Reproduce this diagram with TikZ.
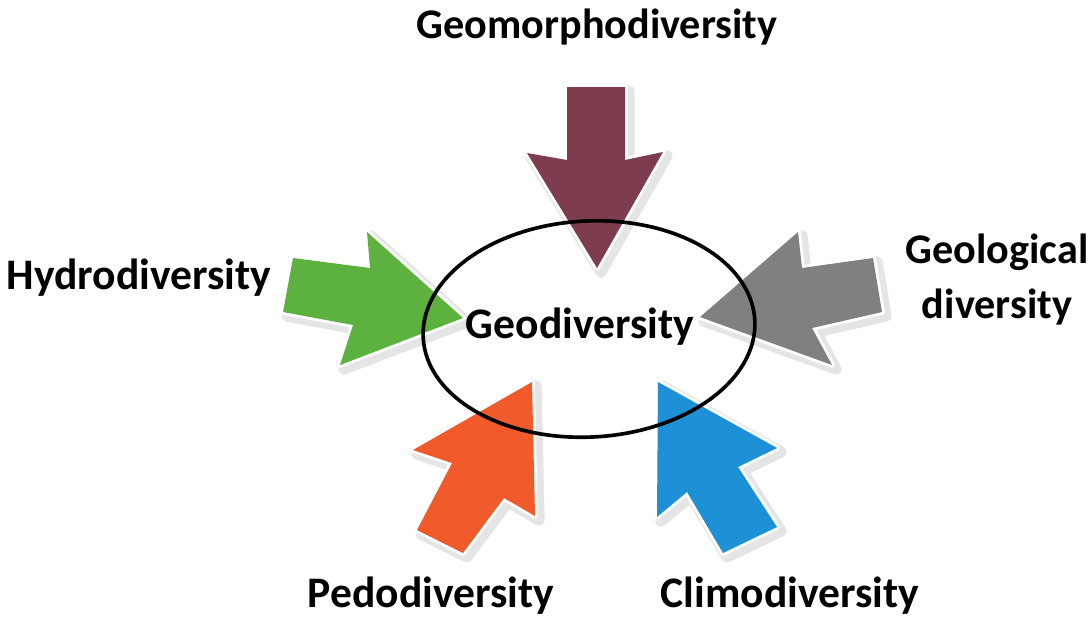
\documentclass[tikz,border=0pt]{standalone}
\usepackage{fontspec}
\setmainfont{Carlito}
\usepackage{tikz}
\usetikzlibrary{positioning,calc}
\definecolor{geomaroon}{RGB}{126,61,78}
\definecolor{geogreen}{RGB}{93,177,63}
\definecolor{geogray}{RGB}{128,128,128}
\definecolor{geoorange}{RGB}{241,90,42}
\definecolor{geoblue}{RGB}{30,144,214}

\tikzset{
  lbl/.style={font=\bfseries\fontsize{31}{36}\selectfont, inner sep=0pt, anchor=base},
  glow/.style={draw=black!10, line width=8pt, line join=round, fill=black!10},
  rim/.style={draw=white, line width=4pt, line join=round}
}

\begin{document}
\begin{tikzpicture}[x=0.025cm, y=-0.025cm]
        \useasboundingbox (0,0) rectangle (1089,621);

        % Arrows (shadow, white rim, colour)
        \foreach \col/\pts in {
            geomaroon/{(567,87) -- (625,87) -- (625,160) -- (663,152) -- (597,268) -- (527,153) -- (567,160)},
            geogreen/{(293,258) -- (370,268) -- (367,232) -- (463,318) -- (340,365) -- (353,325) -- (283,312)},
            geogray/{(873,258) -- (802,268) -- (798,232) -- (700,317) -- (832,365) -- (812,328) -- (882,312)},
            geoorange/{(532,382) -- (535,516) -- (504,498) -- (463,553) -- (417,530) -- (452,463) -- (413,450)},
            geoblue/{(658,382) -- (777,448) -- (738,467) -- (777,527) -- (723,553) -- (687,492) -- (657,517)}} {
          \draw[glow, shift={(4,4)}] \pts -- cycle;
          \draw[rim, fill=white] \pts -- cycle;
          \fill[\col] \pts -- cycle;
        }

        % Centre
        \draw[line width=2.6pt, rotate around={3:(589,329)}] (589,329) ellipse [x radius=4.15cm, y radius=2.7cm];
        \node[lbl] (geo) at (580,338) {Geodiversity};

        % Labels
        \node[lbl, font=\bfseries\fontsize{30}{34}\selectfont] (geomorph) at (597,38) {Geomorphodiversity};
        \node[lbl] (hydro) at (139,289) {Hydrodiversity};
        \node[lbl, align=center, font=\bfseries\fontsize{30}{39}\selectfont] (geolog) at (997,318) {Geological\\diversity};
        \node[lbl] (pedo) at (431,607) {Pedodiversity};
        \node[lbl] (climo) at (790,607) {Climodiversity};
    \end{tikzpicture}
\end{document}
